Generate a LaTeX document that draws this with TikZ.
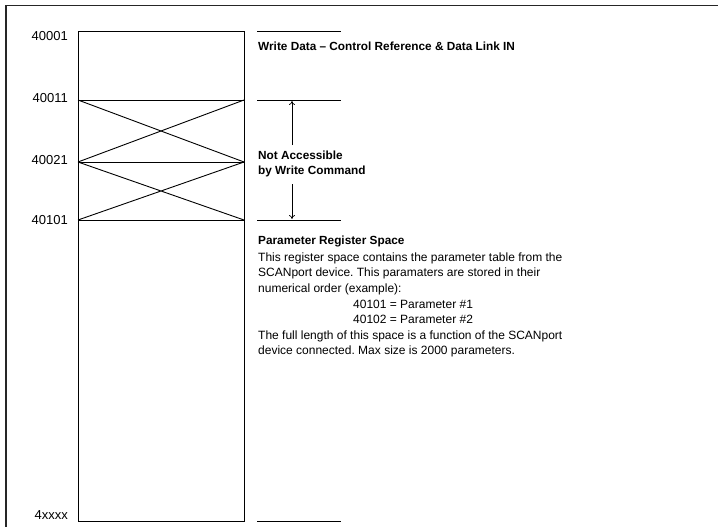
\documentclass[tikz,border=0pt]{standalone}
\usepackage{fontspec}
\setmainfont{Liberation Sans}
\usetikzlibrary{arrows.meta}
\frenchspacing
\begin{document}
\begin{tikzpicture}[x=1pt,y=-1pt,
  lbl/.style={anchor=east,font=\fontsize{13}{15}\selectfont,inner sep=0pt},
  txt/.style={anchor=west,font=\fontsize{12}{15.55}\selectfont,inner sep=0pt,align=left},
  bold/.style={txt,font=\fontsize{11.8}{15.6}\selectfont\bfseries},
  ln/.style={line width=0.9pt},
  arr/.style={line width=0.7pt,-{To[length=4pt,width=6pt]}}]
\useasboundingbox (0,0) rectangle (718,527);
% frame
\draw[line width=1.3pt,black!85] (6,527) -- (6,5.5) -- (718,5.5);
% coordinates
\coordinate (bTL) at (78,31);
\coordinate (b1L) at (78,100);
\coordinate (b1R) at (244,100);
\coordinate (b2L) at (78,162);
\coordinate (b2R) at (244,162);
\coordinate (b3L) at (78,220);
\coordinate (b3R) at (244,220);
\coordinate (bBR) at (244,521);
% box
\draw[ln] (bTL) rectangle (bBR);
\draw[ln] (b1L) -- (b1R);
\draw[ln] (b2L) -- (b2R);
\draw[ln] (b3L) -- (b3R);
\draw[ln] (b1L) -- (b2R) (b2L) -- (b1R);
\draw[ln] (b2L) -- (b3R) (b3L) -- (b2R);
% right ticks
\coordinate (r0a) at (257,31);  \coordinate (r0b) at (341,31);
\coordinate (r1a) at (257,100); \coordinate (r1b) at (341,100);
\coordinate (r3a) at (257,220); \coordinate (r3b) at (341,220);
\coordinate (r4a) at (257,521); \coordinate (r4b) at (341,521);
\draw[ln] (r0a) -- (r0b);
\draw[ln] (r1a) -- (r1b);
\draw[ln] (r3a) -- (r3b);
\draw[ln] (r4a) -- (r4b);
% left labels
\node[lbl] (l1) at (68,36) {40001};
\node[lbl] (l2) at (68,98) {40011};
\node[lbl] (l3) at (68,160) {40021};
\node[lbl] (l4) at (68,220) {40101};
\node[lbl] (l5) at (68,515) {4xxxx};
% texts
\node[bold] (wd) at (258,46) {Write Data -- Control Reference \& Data Link IN};
\node[bold] (na) at (258,164) {Not Accessible\\by Write Command};
\coordinate (au) at (292,145);
\coordinate (ad) at (292,184);
\coordinate (at1) at (292,101);
\coordinate (at2) at (292,219);
\draw[arr] (au) -- (at1);
\draw[arr] (ad) -- (at2);
\node[bold] (prs) at (258,241) {Parameter Register Space};
\node[txt,anchor=north west] (desc) at (258,252.5) {This register space contains the parameter table from the\\
SCANport device. This paramaters are stored in their\\
numerical order (example):\\
\hspace{95pt}40101 = Parameter \#1\\
\hspace{95pt}40102 = Parameter \#2\\
The full length of this space is a function of the SCANport\\
device connected. Max size is 2000 parameters.};
\end{tikzpicture}
\end{document}
